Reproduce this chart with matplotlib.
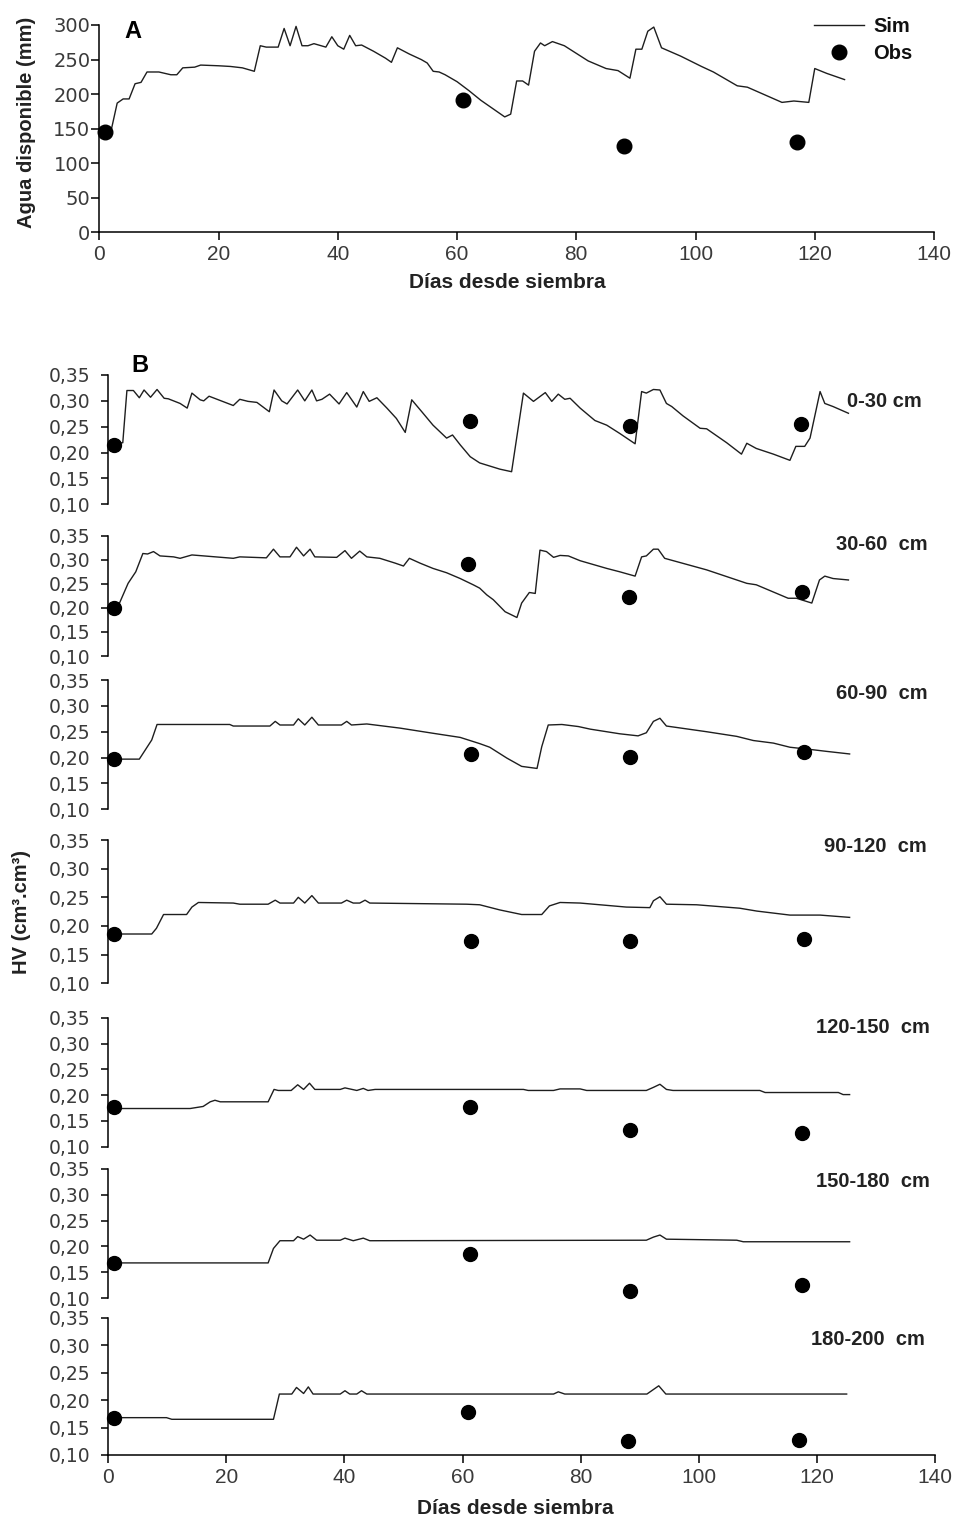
import matplotlib
matplotlib.use("Agg")
import matplotlib.pyplot as plt

plt.rcParams['font.family'] = ['Liberation Sans', 'DejaVu Sans']

# ---------------- Panel A data ----------------
days_A = [0, 2, 3, 4, 5, 6, 7, 8, 10, 12, 13, 14, 16, 17, 20, 22, 24, 26, 27, 28, 30, 31, 32, 33,
          34, 35, 36, 38, 39, 40, 41, 42, 43, 44, 46, 48, 49, 50, 52, 54, 55, 56, 57, 58, 60, 62,
          64, 66, 68, 69, 70, 71, 72, 73, 74, 74.7, 76, 78, 82, 85, 87, 89, 90, 91, 92, 93, 94.3,
          97.5, 101, 103, 107, 108.7, 114.5, 116.5, 119, 120, 122, 125]
sim_A = [148, 148, 187, 193, 193, 215, 217, 232, 232, 228, 228, 238, 239, 242, 241, 240, 238, 233,
         270, 268, 268, 295, 270, 298, 270, 270, 273, 268, 283, 270, 265, 285, 270, 271, 262, 252,
         246, 267, 258, 250, 245, 233, 232, 228, 218, 205, 191, 179, 167, 171, 219, 219, 213, 262,
         274, 270, 276, 270, 248, 237, 234, 223, 265, 265, 291, 297, 267, 255, 240, 232, 212, 210,
         188, 190, 188, 237, 230, 221]
obs_days_A = [1, 61, 88, 117]
obs_A = [145, 192, 125, 131]

# ---------------- Panel B data ----------------
layers = ["0-30 cm", "30-60  cm", "60-90  cm", "90-120  cm", "120-150  cm", "150-180  cm", "180-200  cm"]

d1 = [0.3, 2.5, 3.2, 4.3, 5.3, 6.1, 7.2, 8.3, 9.5, 10.2, 12.2, 13.4, 14.2, 15.6, 16.2, 17.1, 21.2,
      22.3, 23.7, 25.2, 27.3, 28.1, 29.4, 30.3, 32.1, 33.3, 34.5, 35.3, 36.2, 37.5, 39.1, 40.4, 42.1,
      43.2, 44.2, 45.5, 47.2, 48.8, 50.3, 51.4, 53.1, 55.0, 57.3, 58.3, 59.6, 61.3, 62.9, 66.3, 68.3,
      70.3, 72.0, 74.0, 75.1, 76.2, 77.3, 78.2, 79.9, 82.4, 84.4, 86.6, 89.2, 90.3, 91.1, 92.3, 93.4,
      94.5, 95.4, 97.3, 100.2, 101.3, 104.7, 107.2, 108.1, 109.7, 112.6, 115.4, 116.4, 117.9, 118.8,
      120.5, 121.3, 122.7, 125.3]
v1 = [0.218, 0.219, 0.320, 0.320, 0.306, 0.321, 0.307, 0.322, 0.305, 0.304, 0.295, 0.286, 0.315,
      0.302, 0.300, 0.309, 0.291, 0.303, 0.299, 0.297, 0.279, 0.321, 0.300, 0.294, 0.321, 0.300,
      0.321, 0.300, 0.303, 0.313, 0.294, 0.316, 0.288, 0.318, 0.299, 0.306, 0.286, 0.266, 0.239,
      0.302, 0.279, 0.253, 0.228, 0.234, 0.215, 0.192, 0.180, 0.168, 0.163, 0.315, 0.299, 0.316,
      0.299, 0.313, 0.303, 0.305, 0.286, 0.262, 0.253, 0.237, 0.217, 0.318, 0.315, 0.322, 0.321,
      0.295, 0.289, 0.271, 0.247, 0.246, 0.219, 0.197, 0.218, 0.208, 0.197, 0.185, 0.212, 0.212,
      0.228, 0.318, 0.295, 0.289, 0.276]

d2 = [0.3, 1.7, 3.4, 4.7, 5.9, 6.7, 7.7, 8.8, 11.1, 12.2, 14.2, 21.2, 22.3, 26.8, 28.0, 29.1, 30.8,
      31.9, 33.1, 34.2, 35.0, 38.7, 40.1, 41.2, 42.6, 43.8, 46.0, 48.6, 50.0, 51.0, 52.8, 55.0, 57.3,
      59.6, 61.8, 62.9, 64.1, 65.2, 67.2, 69.2, 70.0, 71.3, 72.3, 73.1, 74.2, 75.4, 76.5, 77.9, 79.9,
      84.4, 86.6, 89.2, 90.3, 91.1, 92.3, 93.1, 94.2, 101.3, 108.1, 109.7, 115.1, 116.5, 119.1,
      120.4, 121.3, 122.7, 125.3]
v2 = [0.199, 0.203, 0.251, 0.275, 0.313, 0.312, 0.317, 0.308, 0.306, 0.303, 0.310, 0.303, 0.306,
      0.304, 0.322, 0.306, 0.306, 0.326, 0.308, 0.322, 0.306, 0.305, 0.319, 0.303, 0.318, 0.306,
      0.303, 0.293, 0.287, 0.303, 0.293, 0.282, 0.273, 0.261, 0.248, 0.241, 0.227, 0.217, 0.192,
      0.180, 0.210, 0.232, 0.230, 0.320, 0.317, 0.305, 0.309, 0.308, 0.298, 0.282, 0.275, 0.266,
      0.306, 0.308, 0.322, 0.322, 0.303, 0.279, 0.251, 0.248, 0.220, 0.220, 0.210, 0.258, 0.266,
      0.261, 0.258]

d3 = [0.3, 5.3, 7.4, 8.3, 20.6, 21.2, 27.4, 28.3, 29.1, 31.4, 32.2, 33.3, 34.5, 35.6, 39.5, 40.4,
      41.2, 43.8, 46.6, 49.4, 52.2, 55.0, 59.6, 61.8, 62.9, 64.6, 67.5, 70.0, 72.6, 73.4, 74.5, 76.8,
      79.6, 81.6, 86.6, 89.7, 91.1, 92.3, 93.4, 94.5, 101.3, 106.4, 109.2, 112.6, 115.4, 119.4,
      121.6, 125.5]
v3 = [0.197, 0.197, 0.234, 0.264, 0.264, 0.261, 0.261, 0.270, 0.263, 0.263, 0.275, 0.263, 0.278,
      0.263, 0.263, 0.270, 0.263, 0.265, 0.261, 0.257, 0.252, 0.247, 0.239, 0.231, 0.227, 0.220,
      0.199, 0.183, 0.179, 0.221, 0.263, 0.264, 0.260, 0.255, 0.246, 0.242, 0.248, 0.270, 0.276,
      0.261, 0.250, 0.241, 0.233, 0.228, 0.220, 0.215, 0.212, 0.207]

d4 = [0.3, 7.4, 8.2, 9.4, 13.3, 14.2, 15.3, 21.2, 22.3, 27.1, 28.3, 29.1, 31.4, 32.2, 33.3, 34.5,
      35.6, 39.5, 40.4, 41.5, 42.6, 43.5, 44.3, 60.7, 62.9, 66.3, 70.0, 73.4, 74.7, 76.5, 79.9,
      87.7, 91.7, 92.3, 93.4, 94.5, 99.6, 106.9, 109.8, 115.4, 120.5, 125.5]
v4 = [0.186, 0.186, 0.196, 0.220, 0.220, 0.233, 0.241, 0.240, 0.238, 0.238, 0.245, 0.240, 0.240,
      0.250, 0.240, 0.253, 0.240, 0.240, 0.245, 0.240, 0.240, 0.245, 0.240, 0.238, 0.237, 0.228,
      0.220, 0.220, 0.235, 0.241, 0.240, 0.233, 0.232, 0.244, 0.251, 0.238, 0.237, 0.231, 0.226,
      0.219, 0.219, 0.215]

d5 = [0.3, 13.9, 16.1, 17.3, 18.1, 19.0, 27.1, 28.1, 28.8, 31.0, 32.1, 33.1, 34.1, 35.0, 39.3, 40.1,
      42.1, 43.2, 44.0, 45.2, 70.3, 71.1, 75.4, 76.5, 79.9, 81.0, 91.1, 92.3, 93.4, 94.5, 95.6,
      110.3, 111.2, 123.6, 124.4, 125.5]
v5 = [0.174, 0.174, 0.178, 0.187, 0.190, 0.187, 0.187, 0.211, 0.209, 0.209, 0.220, 0.211, 0.223,
      0.211, 0.211, 0.214, 0.209, 0.213, 0.209, 0.211, 0.211, 0.209, 0.209, 0.212, 0.212, 0.209,
      0.209, 0.215, 0.221, 0.211, 0.209, 0.209, 0.205, 0.205, 0.201, 0.201]

d6 = [0.3, 27.1, 28.0, 29.1, 31.4, 32.1, 33.1, 34.2, 35.3, 39.3, 40.1, 41.5, 43.2, 44.3, 91.1, 92.3,
      93.4, 94.5, 106.4, 107.5, 125.5]
v6 = [0.168, 0.168, 0.196, 0.211, 0.211, 0.219, 0.214, 0.222, 0.212, 0.212, 0.216, 0.211, 0.216,
      0.211, 0.212, 0.218, 0.222, 0.214, 0.212, 0.209, 0.209]

d7 = [0.3, 9.9, 10.8, 28.0, 29.0, 31.1, 31.9, 33.1, 33.9, 34.7, 39.3, 40.1, 40.9, 42.1, 42.9, 43.8,
      75.4, 76.2, 77.3, 91.2, 93.2, 94.4, 125.0]
v7 = [0.168, 0.168, 0.165, 0.165, 0.211, 0.211, 0.223, 0.212, 0.224, 0.211, 0.211, 0.217, 0.211,
      0.211, 0.217, 0.211, 0.211, 0.215, 0.211, 0.211, 0.226, 0.211, 0.211]

obs_days_B = [[1, 61.3, 88.4, 117.2], [1, 61.0, 88.2, 117.4], [1, 61.4, 88.4, 117.7],
              [1, 61.4, 88.4, 117.7], [1, 61.3, 88.4, 117.4], [1, 61.3, 88.4, 117.4],
              [1, 61.0, 88.0, 117.0]]
obs_B = [[0.215, 0.262, 0.252, 0.255], [0.200, 0.291, 0.223, 0.232], [0.197, 0.206, 0.202, 0.210],
         [0.186, 0.174, 0.174, 0.177], [0.176, 0.176, 0.132, 0.126], [0.168, 0.185, 0.114, 0.125],
         [0.167, 0.179, 0.125, 0.128]]

x_ticks = [0, 20, 40, 60, 80, 100, 120, 140]
yA_ticks = [0, 50, 100, 150, 200, 250, 300]
yB_ticks = [0.10, 0.15, 0.20, 0.25, 0.30, 0.35]

sim_B_days = [d1, d2, d3, d4, d5, d6, d7]
sim_B = [v1, v2, v3, v4, v5, v6, v7]

# ---------------- Figure ----------------
W, H = 962, 1521
fig = plt.figure(figsize=(W / 100, H / 100), dpi=100)

LINE_C = '#1e1e1e'
TICK_C = '#3a3a3a'


def ax_px(left, top, right, bottom):
    return fig.add_axes([left / W, 1 - bottom / H, (right - left) / W, (bottom - top) / H])


def style(ax):
    for s in ['top', 'right']:
        ax.spines[s].set_visible(False)
    for s in ['left', 'bottom']:
        ax.spines[s].set_linewidth(1.1)
        ax.spines[s].set_color('black')
    ax.set_facecolor('none')


# Panel A
axA = ax_px(99.3, 25, 934, 232.3)
style(axA)
axA.plot(days_A, sim_A, color=LINE_C, lw=1.0, label='Sim')
axA.plot(obs_days_A, obs_A, 'o', color='black', ms=10.5, label='Obs', clip_on=False, zorder=5)
axA.set_xlim(0, 140)
axA.set_ylim(0, 300)
axA.set_xticks(x_ticks, labels=[str(v) for v in x_ticks], fontsize=15, color=TICK_C)
axA.set_yticks(yA_ticks, labels=[str(v) for v in yA_ticks], fontsize=14, color=TICK_C,
               fontfamily='DejaVu Sans')
axA.tick_params(axis='both', direction='out', length=5.5, width=1.1, color='black')
axA.tick_params(axis='y', pad=1)
axA.tick_params(axis='x', pad=4)
leg = axA.legend(loc='upper left', bbox_to_anchor=(814 / W, 1 - 17 / H), bbox_transform=fig.transFigure,
                 frameon=False, fontsize=14.5, handlelength=2.5, handletextpad=0.45, labelspacing=0.42,
                 borderpad=0, borderaxespad=0, numpoints=1)
for t in leg.get_texts():
    t.set_color('#111111')
    t.set_fontweight('semibold')

fig.text(27 / W, 1 - 122 / H, 'Agua disponible (mm)', rotation=90, ha='center', va='center',
         fontsize=14.5, fontweight='bold', color='#222222')
fig.text(507.5 / W, 1 - 282 / H, 'Días desde siembra', ha='center', va='center',
         fontsize=15, fontweight='bold', color='#222222')
fig.text(133 / W, 1 - 32 / H, 'A', ha='center', va='center', fontsize=17, fontweight='bold')

# Panel B
B_tops = [375, 535.7, 680, 840, 1017.7, 1169, 1317.7]
B_bots = [504.3, 656, 809.3, 983.3, 1146.7, 1298, 1455]
lab_right = [922, 928, 928, 927, 930, 930, 925]
lab_y = [401.7, 545, 693.3, 846.7, 1027.7, 1181.7, 1339.3]

for i in range(7):
    ax = ax_px(108, B_tops[i], 935.3, B_bots[i])
    style(ax)
    ax.plot(sim_B_days[i], sim_B[i], color=LINE_C, lw=1.0)
    ax.plot(obs_days_B[i], obs_B[i], 'o', color='black', ms=10, clip_on=False, zorder=5)
    ax.set_xlim(0, 140)
    ax.set_ylim(0.10, 0.35)
    ax.set_yticks(yB_ticks, labels=[f"{v:.2f}".replace('.', ',') for v in yB_ticks],
                  fontsize=13.5, color=TICK_C, fontfamily='DejaVu Sans')
    ax.tick_params(axis='y', direction='out', length=5, width=1.1, color='black', pad=8)
    if i < 6:
        ax.spines['bottom'].set_visible(False)
        ax.set_xticks([])
    else:
        ax.set_xticks(x_ticks, labels=[str(v) for v in x_ticks], fontsize=15, color=TICK_C)
        ax.tick_params(axis='x', direction='out', length=5.5, width=1.1, color='black', pad=4)
    fig.text(lab_right[i] / W, 1 - lab_y[i] / H, layers[i], ha='right', va='center',
             fontsize=14.5, fontweight='bold', color='#222222')

fig.text(140 / W, 1 - 366 / H, 'B', ha='center', va='center', fontsize=17, fontweight='bold')
fig.text(22 / W, 1 - 912 / H, 'HV (cm³.cm³)', rotation=90, ha='center', va='center',
         fontsize=14.5, fontweight='bold', color='#222222')
fig.text(515.5 / W, 1 - 1508 / H, 'Días desde siembra', ha='center', va='center',
         fontsize=15, fontweight='bold', color='#222222')

fig.savefig('out.png', dpi=100)
